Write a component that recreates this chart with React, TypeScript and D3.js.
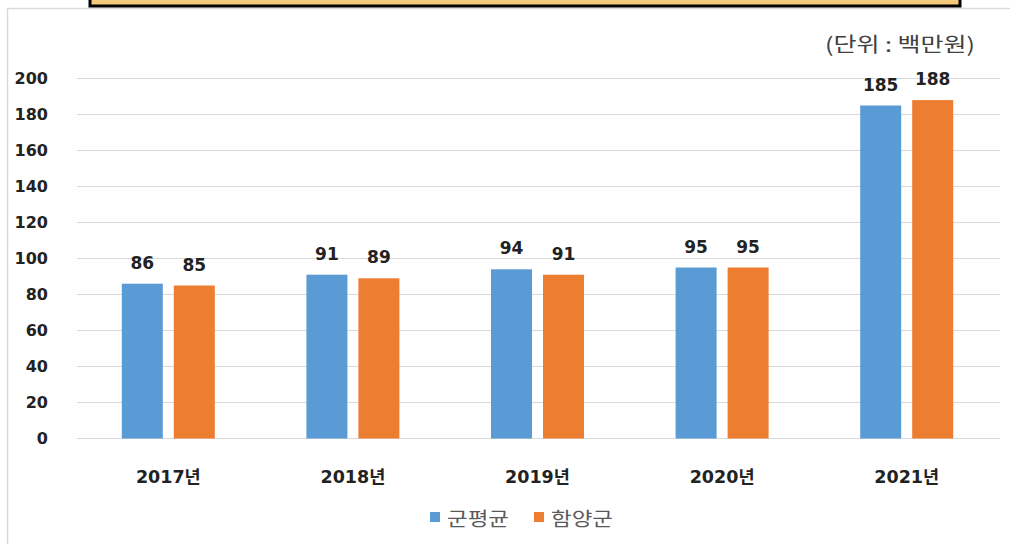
import React from "react";
import * as d3 from "d3";

const categories = ["2017년", "2018년", "2019년", "2020년", "2021년"];
const seriesNames = ["군평균", "함양군"];
const gunAvg = [86, 91, 94, 95, 185];
const hamyang = [85, 89, 91, 95, 188];
const yTicks = [0, 20, 40, 60, 80, 100, 120, 140, 160, 180, 200];
const colors = ["#5B9BD5", "#ED7D31"];
const unitLabel = "(단위 : 백만원)";

const W = 1010;
const H = 544;
const FONT = "'Noto Sans CJK KR', 'Noto Sans', sans-serif";
const NUMFONT = "'DejaVu Sans', 'Noto Sans CJK KR', sans-serif";

export default function App() {
  const x0 = d3.scaleBand<string>().domain(categories).range([77, 1000]).paddingInner(0).paddingOuter(0);
  const y = d3.scaleLinear().domain([0, 200]).range([438.5, 78.5]);
  const barW = 41;
  const gap = 11;
  const series = [gunAvg, hamyang];

  return (
    <svg width={W} height={H} style={{ position: "absolute", left: 0, top: 0 }}>
      <rect x={0} y={0} width={W} height={H} fill="#ffffff" />
      {/* panel border */}
      <line x1={7.5} y1={8.5} x2={W} y2={8.5} stroke="#d9d9d9" strokeWidth={1.5} />
      <line x1={7.5} y1={8.5} x2={7.5} y2={H} stroke="#d9d9d9" strokeWidth={1.5} />
      {/* title box (cut off) */}
      <rect x={90} y={-20} width={870} height={26} fill="#F3C97B" stroke="#000" strokeWidth={3} />
      {/* unit label */}
      <text x={825} y={52} textLength={150} lengthAdjust="spacingAndGlyphs" fontFamily={FONT} fontSize={20} fill="#404040">
        {unitLabel}
      </text>
      {/* gridlines */}
      {yTicks.map((t) => (
        <g key={t}>
          <line x1={77} x2={1000} y1={y(t)} y2={y(t)} stroke="#d9d9d9" strokeWidth={1} />
          <text x={48} y={y(t)} dy="0.36em" textAnchor="end" fontFamily={NUMFONT} fontWeight={700} fontSize={16} fill="#222">
            {t}
          </text>
        </g>
      ))}
      {/* bars */}
      {categories.map((c, i) => {
        const cx = (x0(c) as number) + x0.bandwidth() / 2 - 1;
        return (
          <g key={c}>
            {series.map((s, j) => {
              const bx = j === 0 ? cx - gap / 2 - barW : cx + gap / 2;
              const v = s[i];
              return (
                <g key={j}>
                  <rect x={bx} y={y(v)} width={barW} height={y(0) - y(v)} fill={colors[j]} />
                  <text x={bx + barW / 2} y={y(v) - 15} textAnchor="middle" fontFamily={NUMFONT} fontWeight={700} fontSize={17} fill="#222">
                    {v}
                  </text>
                </g>
              );
            })}
            <text x={cx} y={483} textAnchor="middle" fontFamily={NUMFONT} fontWeight={700} fontSize={17.5} fill="#222">
              {c}
            </text>
          </g>
        );
      })}
      {/* legend */}
      {seriesNames.map((n, j) => {
        const lx = j === 0 ? 430 : 534;
        return (
          <g key={n}>
            <rect x={lx} y={512} width={10} height={10} fill={colors[j]} />
            <text x={lx + 17} y={526} textLength={62} lengthAdjust="spacingAndGlyphs" fontFamily={FONT} fontSize={19} fill="#595959">
              {n}
            </text>
          </g>
        );
      })}
    </svg>
  );
}
